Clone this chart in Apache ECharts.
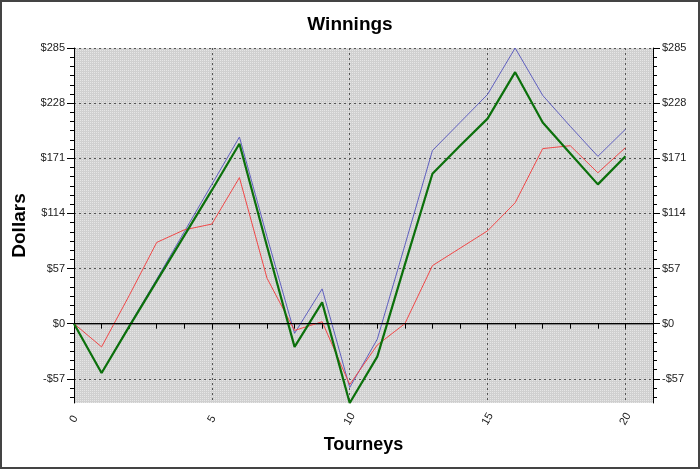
<!DOCTYPE html>
<html>
<head>
<meta charset="utf-8">
<script src="https://cdn.jsdelivr.net/npm/echarts@6/dist/echarts.min.js"></script>
<style>
  html, body { margin: 0; padding: 0; background: #fff; }
  #chart { width: 700px; height: 469px; }
</style>
</head>
<body>
<div id="chart"></div>
<script>
  // tourney numbers on the x axis (axis runs one past the last tourney)
  const tourneys = ['0', '1', '2', '3', '4', '5', '6', '7', '8', '9', '10',
    '11', '12', '13', '14', '15', '16', '17', '18', '19', '20', '21'];

  // cumulative winnings
  const blueLine = [0, -51, -2, 46, 95, 144, 193, 90, -10, 36, -66, -16, 81, 179, 208, 237, 285, 236, 204, 173, 201];
  const redLine = [0, -24, 29, 84, 97, 103, 151, 47, -7, 2, -63, -22, 0, 60, 78, 96, 125, 181, 184, 156, 182];
  const greenLine = [0, -51, -3, 44, 91, 138, 186, 80, -24, 22, -82, -34, 61, 155, 184, 212, 260, 208, 176, 144, 173];

  // y axis labels
  const dollarTicks = [-57, 0, 57, 114, 171, 228, 285];
  const yMin = -82;
  const yMax = 285;

  const minorTicks = [];
  for (let v = 285; v >= yMin; v -= 9.5) minorTicks.push(v);

  const chart = echarts.init(document.getElementById('chart'));

  // dotted grey fill for the plot area
  const pat = document.createElement('canvas');
  pat.width = 2;
  pat.height = 2;
  const pctx = pat.getContext('2d');
  pctx.fillStyle = '#d0d0d0';
  pctx.fillRect(0, 0, 2, 2);
  pctx.fillStyle = '#e6e6e6';
  pctx.fillRect(0, 0, 1, 1);

  const fmt = v => (v < 0 ? '-$' + (-v) : '$' + v);
  const font = 'Liberation Sans';
  const gridDots = { color: '#555', type: [2, 3], width: 1 };

  const majorY = (pos) => ({
    type: 'value',
    position: pos,
    min: yMin,
    max: yMax,
    axisLine: { show: true, lineStyle: { color: '#000' } },
    axisTick: { show: true, customValues: dollarTicks, length: 7, lineStyle: { color: '#000' } },
    axisLabel: {
      customValues: dollarTicks,
      formatter: fmt,
      color: '#222',
      fontSize: 11,
      fontFamily: font,
      margin: 9
    },
    splitLine: { show: pos === 'left', lineStyle: gridDots }
  });
  const minorY = (pos) => ({
    type: 'value',
    position: pos,
    min: yMin,
    max: yMax,
    axisLine: { show: false },
    axisTick: { show: true, customValues: minorTicks, length: 4, lineStyle: { color: '#000' } },
    axisLabel: { show: false },
    splitLine: { show: false }
  });

  const option = {
    backgroundColor: '#fff',
    animation: false,
    title: {
      text: 'Winnings',
      left: 'center',
      top: 10,
      textStyle: { fontSize: 19, fontWeight: 'bold', color: '#000', fontFamily: font }
    },
    grid: {
      left: 74,
      right: 47,
      top: 48,
      bottom: 66,
      show: true,
      borderWidth: 0,
      backgroundColor: { image: pat, repeat: 'repeat' }
    },
    xAxis: [
      {
        type: 'category',
        data: tourneys,
        boundaryGap: false,
        name: 'Tourneys',
        nameLocation: 'middle',
        nameGap: 33,
        nameTextStyle: { fontSize: 18, fontWeight: 'bold', color: '#000', fontFamily: font },
        axisLine: { lineStyle: { color: '#000' } },
        axisTick: { interval: 0, length: 5, lineStyle: { color: '#000' } },
        axisLabel: {
          interval: 4,
          rotate: 60,
          align: 'center',
          verticalAlign: 'middle',
          margin: 16,
          color: '#222',
          fontSize: 11,
          fontFamily: font
        },
        splitLine: { show: true, interval: 4, lineStyle: gridDots }
      },
      {
        type: 'category',
        data: tourneys,
        boundaryGap: false,
        position: 'top',
        axisLine: { lineStyle: { color: '#888', width: 2 } },
        axisTick: { interval: 0, inside: true, length: 4, lineStyle: { color: '#000' } },
        axisLabel: { show: false },
        splitLine: { show: false }
      }
    ],
    yAxis: [
      Object.assign(majorY('left'), {
        name: 'Dollars',
        nameLocation: 'middle',
        nameGap: 40,
        nameRotate: 90,
        nameTextStyle: { fontSize: 19, fontWeight: 'bold', color: '#000', fontFamily: font }
      }),
      minorY('left'),
      majorY('right'),
      minorY('right')
    ],
    series: [
      {
        name: 'Blue',
        type: 'line',
        data: blueLine,
        showSymbol: false,
        lineStyle: { color: '#5f5fbf', width: 1 },
        itemStyle: { color: '#5f5fbf' },
        markLine: {
          silent: true,
          symbol: ['none', 'none'],
          label: { show: false },
          lineStyle: { color: '#000', type: 'solid', width: 1 },
          data: [{ yAxis: 0 }]
        }
      },
      {
        name: 'Red',
        type: 'line',
        data: redLine,
        showSymbol: false,
        lineStyle: { color: '#f04848', width: 1 },
        itemStyle: { color: '#f04848' }
      },
      {
        name: 'Green',
        type: 'line',
        data: greenLine,
        showSymbol: false,
        lineStyle: { color: '#0b700b', width: 2.2 },
        itemStyle: { color: '#0b700b' }
      }
    ],
    graphic: [
      {
        type: 'rect',
        shape: { x: 1, y: 1, width: 698, height: 467 },
        style: { fill: 'none', stroke: '#444', lineWidth: 2 },
        silent: true
      }
    ]
  };

  option && chart.setOption(option);
</script>
</body>
</html>
